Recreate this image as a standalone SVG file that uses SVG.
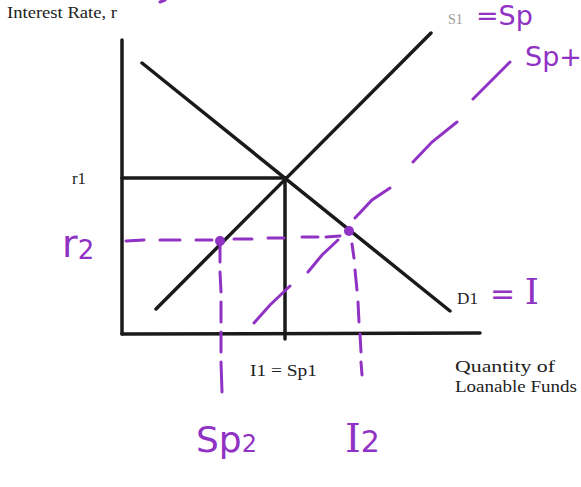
<svg xmlns="http://www.w3.org/2000/svg" width="581" height="487" viewBox="0 0 581 487">
<style>
.ax{stroke:#1a1a1a;stroke-width:3.5;fill:none;stroke-linecap:round}
.cv{stroke:#1a1a1a;stroke-width:3.5;fill:none;stroke-linecap:round}
.lbl{font-family:"Liberation Serif","Times New Roman",serif;fill:#222;font-size:17px}
.pu{stroke:#9032c4;stroke-width:3;fill:none;stroke-linecap:round}
.pt{font-family:"DejaVu Sans","Noto Sans",sans-serif;fill:#9032c4}
.ps{font-family:"DejaVu Serif","Liberation Serif",serif;fill:#9032c4}
</style>
<rect width="581" height="487" fill="#fff"/>
<g id="axes">
<line class="ax" x1="122" y1="40" x2="122" y2="334"/>
<line class="ax" x1="122" y1="334" x2="480" y2="333"/>
<text class="lbl" x="7" y="18" textLength="110" lengthAdjust="spacingAndGlyphs">Interest Rate, r</text>
<text class="lbl" x="455" y="372" textLength="100" lengthAdjust="spacingAndGlyphs">Quantity of</text>
<text class="lbl" x="455" y="392" textLength="122" lengthAdjust="spacingAndGlyphs">Loanable Funds</text>
</g>
<g id="connectors">
<line class="cv" x1="142" y1="63" x2="450" y2="311"/>
<line class="cv" x1="156" y1="309" x2="431" y2="33"/>
<line class="cv" x1="122" y1="178" x2="285" y2="178"/>
<line class="cv" x1="285" y1="178" x2="285" y2="339"/>
</g>
<g id="labels">
<text class="lbl" x="72" y="184" textLength="14" lengthAdjust="spacingAndGlyphs">r1</text>
<text class="lbl" x="448" y="24" style="fill:#9a9a9a;font-size:14px">S1</text>
<text class="lbl" x="457" y="304" textLength="21" lengthAdjust="spacingAndGlyphs">D1</text>
<text class="lbl" x="250" y="376" textLength="67" lengthAdjust="spacingAndGlyphs">I1 = Sp1</text>
</g>
<g id="annotations">
<path class="pu" d="M126 241 L144 240 M160 240 L180 240 M196 240 L212 240 M234 239 L252 239 M268 238 L284 238 M302 237 L318 237 M326 237 L340 236"/>
<path class="pu" d="M220 246 L220 262 M220 272 L221 292 M221 302 L221 322 M221 332 L221 352 M221 362 L222 392"/>
<path class="pu" d="M352 244 L354 258 M355 270 L357 290 M358 302 L359 322 M360 334 L361 352 M361 362 L362 375"/>
<path class="pu" d="M254 323 L270 305 L290 286 M308 272 L322 255 L338 240 M355 218 L372 200 L390 188 M413 162 L432 142 L457 122 M473 99 L492 80 L510 62"/>
<circle cx="220" cy="241" r="5" fill="#9032c4"/>
<circle cx="349" cy="231" r="5" fill="#9032c4"/>
<path class="pu" d="M160 2 L165 0"/>
<text class="pt" x="62" y="257" font-size="38">r<tspan font-size="26" dy="2">2</tspan></text>
<text class="pt" x="196" y="452" font-size="36">Sp<tspan font-size="24">2</tspan></text>
<text class="ps" x="345" y="452" font-size="40">I<tspan font-size="30" class="pt">2</tspan></text>
<text class="pt" x="490" y="304" font-size="30">= <tspan class="ps" font-size="36">I</tspan></text>
<text class="pt" x="476" y="25" font-size="27">=Sp</text>
<text class="pt" x="525" y="66" font-size="27">Sp+</text>
</g>
</svg>
